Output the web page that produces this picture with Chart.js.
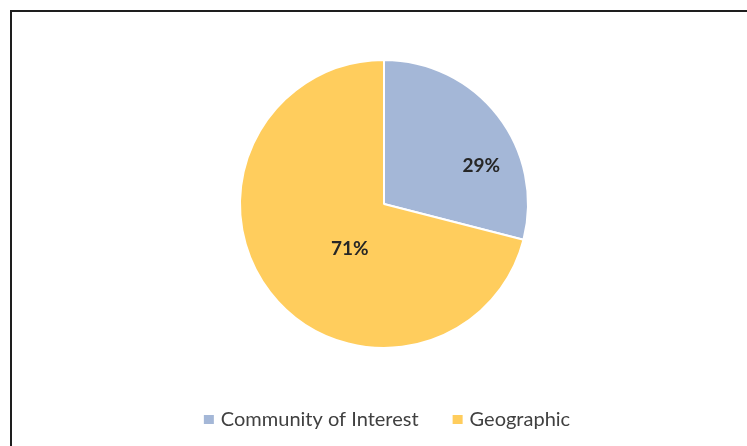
<!DOCTYPE html>
<html>
<head>
<meta charset="utf-8">
<script src="https://cdn.jsdelivr.net/npm/chart.js@4/dist/chart.umd.min.js"></script>
<style>
  html, body { margin: 0; padding: 0; background: #fff; overflow: hidden; }
  #wrap { position: relative; width: 747px; height: 446px; }
  #frame {
    position: absolute; left: 10px; top: 10px; right: -20px; bottom: -20px;
    border-left: 2px solid #1e1e1e; border-top: 2px solid #1e1e1e;
    pointer-events: none;
  }
</style>
</head>
<body>
<div id="wrap">
  <canvas id="pie" width="747" height="446"></canvas>
  <div id="frame"></div>
</div>
<script>
const categories = ['Community of Interest', 'Geographic'];
const shares = [29, 71];
const sliceColors = ['#a4b7d7', '#ffcd5d'];

// where each percent label sits: fraction of the slice's sweep, fraction of the radius
const labelSweep = [0.659, 0.441];
const labelRadius = [0.724, 0.394];

const fontFamily = 'Lato, "Open Sans", sans-serif';

const pctLabels = {
  id: 'pctLabels',
  afterDatasetsDraw(chart) {
    const { ctx } = chart;
    const meta = chart.getDatasetMeta(0);
    ctx.save();
    ctx.font = 'bold 19px ' + fontFamily;
    ctx.fillStyle = '#262626';
    ctx.textAlign = 'center';
    ctx.textBaseline = 'middle';
    meta.data.forEach((arc, i) => {
      const p = arc.getProps(['x', 'y', 'startAngle', 'endAngle', 'outerRadius'], true);
      const a = p.startAngle + (p.endAngle - p.startAngle) * labelSweep[i];
      const r = p.outerRadius * labelRadius[i];
      ctx.fillText(shares[i] + '%', p.x + Math.cos(a) * r, p.y + Math.sin(a) * r);
    });
    ctx.restore();
  }
};

// legend row under the pie, small square swatches
const bottomLegend = {
  id: 'bottomLegend',
  afterDraw(chart) {
    const { ctx } = chart;
    const box = 10, textGap = 7, itemGap = 34, y = 419;
    ctx.save();
    ctx.font = '20px ' + fontFamily;
    ctx.textBaseline = 'middle';
    const widths = categories.map(c => box + textGap + ctx.measureText(c).width);
    const total = widths.reduce((s, w) => s + w, 0) + itemGap * (categories.length - 1);
    let x = 387 - total / 2;
    categories.forEach((c, i) => {
      ctx.fillStyle = sliceColors[i];
      ctx.fillRect(x, y - 4, box, 9);
      ctx.fillStyle = '#404040';
      ctx.fillText(c, x + box + textGap, y + 1);
      x += widths[i] + itemGap;
    });
    ctx.restore();
  }
};

new Chart(document.getElementById('pie'), {
  type: 'pie',
  data: {
    labels: categories,
    datasets: [{
      data: shares,
      backgroundColor: sliceColors,
      borderColor: '#ffffff',
      borderWidth: 2
    }]
  },
  options: {
    responsive: false,
    animation: false,
    layout: { padding: { top: 59, bottom: 97, left: 31, right: 10 } },
    plugins: {
      tooltip: { enabled: false },
      legend: { display: false }
    }
  },
  plugins: [pctLabels, bottomLegend]
});
</script>
</body>
</html>
